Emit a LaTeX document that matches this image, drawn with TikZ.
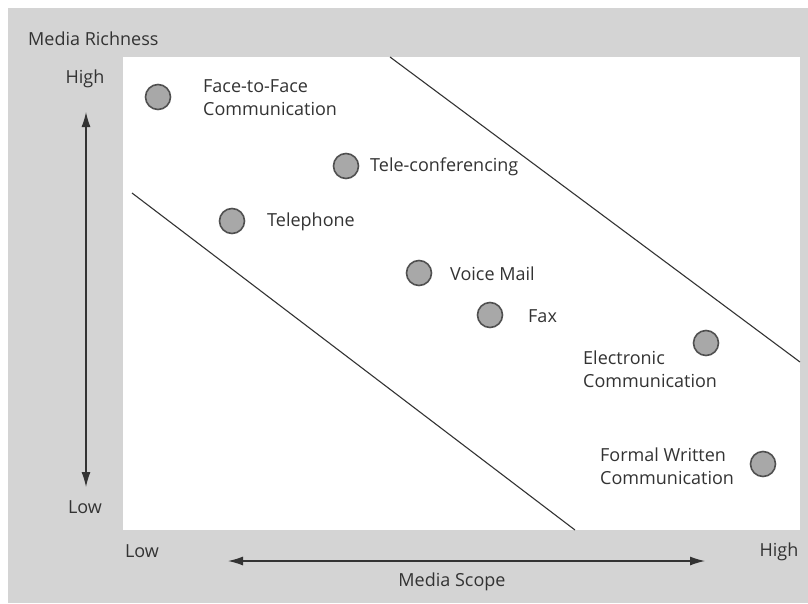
\documentclass[tikz,border=0pt]{standalone}
\usepackage{fontspec}
\setmainfont{Open Sans}
\usetikzlibrary{arrows.meta}
\definecolor{bggray}{HTML}{D4D4D4}
\definecolor{dotfill}{HTML}{A8A8A8}
\definecolor{dotline}{HTML}{505050}
\definecolor{ink}{HTML}{333333}
\begin{document}
\begin{tikzpicture}[x=1pt,y=-1pt,
  every node/.style={font=\fontsize{18}{23}\selectfont, text=ink, inner sep=0pt},
  dot/.style={circle, draw=dotline, fill=dotfill, line width=1.6pt, minimum size=25pt},
  lbl/.style={anchor=west, align=left},
  bound/.style={draw=ink, line width=1.1pt},
  axis/.style={draw=ink, line width=1.2pt, {Latex[length=15pt,width=9pt]}-{Latex[length=15pt,width=9pt]}}]
\useasboundingbox (0,0) rectangle (808,603);
\fill[white] (0,0) rectangle (808,603);
\fill[bggray] (8,8) rectangle (808,603);
\fill[white] (123,57) rectangle (800,530);
% boundary lines
\coordinate (l1a) at (132,193); \coordinate (l1b) at (575,530);
\coordinate (l2a) at (390,57); \coordinate (l2b) at (800,362);
\draw[bound] (l1a) -- (l1b);
\draw[bound] (l2a) -- (l2b);
% dots
\node[dot] (ff) at (158,97) {};
\node[dot] (tc) at (346,166) {};
\node[dot] (tp) at (232,221) {};
\node[dot] (vm) at (419,273) {};
\node[dot] (fx) at (490,315) {};
\node[dot] (ec) at (706,343) {};
\node[dot] (fw) at (763,464) {};
% labels
\node[lbl] (ffl) at (203,98) {Face-to-Face\\Communication};
\node[lbl] (tcl) at (370,167) {Tele-conferencing};
\node[lbl] (tpl) at (267,222) {Telephone};
\node[lbl] (vml) at (450,274) {Voice Mail};
\node[lbl] (fxl) at (528,316) {Fax};
\node[lbl] (ecl) at (583,369) {Electronic\\Communication};
\node[lbl] (fwl) at (600,466) {Formal Written\\Communication};
% axes
\node[anchor=west] (mr) at (28,39) {Media Richness};
\node (yh) at (85,79) {High};
\node (yl) at (85,507) {Low};
\coordinate (ya) at (86,112); \coordinate (yb) at (86,487);
\draw[axis] (ya) -- (yb);
\node (xl) at (142,551) {Low};
\node (xh) at (779,552) {High};
\coordinate (xa) at (228,561); \coordinate (xb) at (705,561);
\draw[axis] (xa) -- (xb);
\node (ms) at (452,582) {Media Scope};
\end{tikzpicture}
\end{document}
